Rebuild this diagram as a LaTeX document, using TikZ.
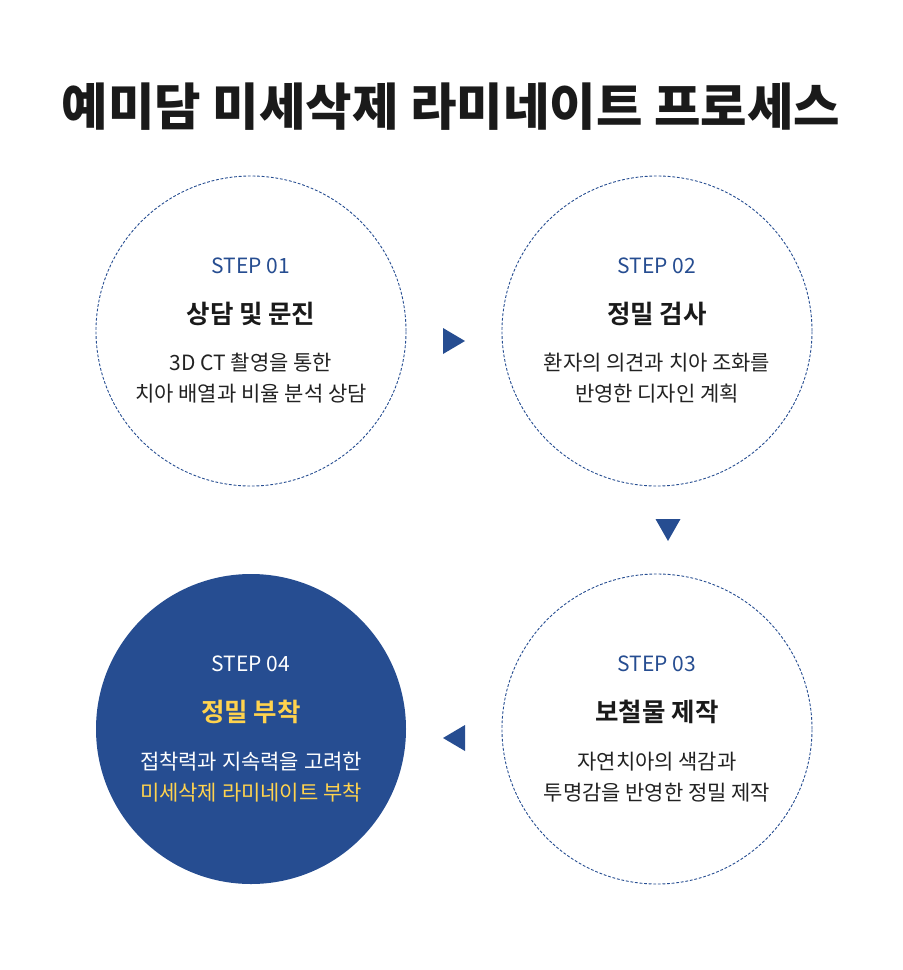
\documentclass[tikz,border=0pt]{standalone}
\usepackage{fontspec}
\usetikzlibrary{calc}
\setmainfont{Noto Sans CJK KR}
\newfontfamily\krblack{Noto Sans CJK KR Black}
\newfontfamily\krbold{Noto Sans CJK KR Bold}
\definecolor{mainblue}{HTML}{264D91}
\definecolor{accent}{HTML}{FFD34E}
\definecolor{titleblack}{HTML}{1A1A1A}
\definecolor{bodytext}{HTML}{222222}
\begin{document}
\begin{tikzpicture}[x=1pt,y=-1pt,
  stepcircle/.style={circle,draw=mainblue,line width=0.9pt,dash pattern=on 2.8pt off 1.8pt,minimum size=310pt,inner sep=0pt},
  filledcircle/.style={circle,fill=mainblue,minimum size=310pt,inner sep=0pt},
  steplabel/.style={font=\fontsize{21}{24}\selectfont,text=mainblue,anchor=center},
  steptitle/.style={font=\krbold\fontsize{25.5}{28}\selectfont,text=titleblack,anchor=center},
  stepbody/.style={font=\fontsize{21}{31}\selectfont,text=bodytext,align=center,anchor=center},
  arrowtri/.style={fill=mainblue,draw=none}
]
\useasboundingbox (0,0) rectangle (903,970);
\fill[white] (0,0) rectangle (903,970);

\node[font=\krblack\fontsize{50.5}{56}\selectfont,text=titleblack] (title) at (451,107) {예미담 미세삭제 라미네이트 프로세스};

% circles
\node[stepcircle] (c1) at (251,331) {};
\node[stepcircle] (c2) at (657,331) {};
\node[stepcircle] (c3) at (657,729) {};
\node[filledcircle] (c4) at (251,729) {};

% step 1
\node[steplabel] (s1) at (251,266) {STEP 01};
\node[steptitle] (t1) at (251,314) {상담 및 문진};
\node[stepbody] (b1) at (251,378) {3D CT 촬영을 통한\\치아 배열과 비율 분석 상담};

% step 2
\node[steplabel] (s2) at (657,266) {STEP 02};
\node[steptitle] (t2) at (657,314) {정밀 검사};
\node[stepbody] (b2) at (657,378) {환자의 의견과 치아 조화를\\반영한 디자인 계획};

% step 3
\node[steplabel] (s3) at (657,664) {STEP 03};
\node[steptitle] (t3) at (657,712) {보철물 제작};
\node[stepbody] (b3) at (657,777) {자연치아의 색감과\\투명감을 반영한 정밀 제작};

% step 4
\node[steplabel,text=white] (s4) at (251,664) {STEP 04};
\node[steptitle,text=accent] (t4) at (251,712) {정밀 부착};
\node[stepbody,text=white] (b4) at (251,777) {접착력과 지속력을 고려한\\\textcolor{accent}{미세삭제 라미네이트 부착}};

% arrows
\coordinate (a1) at (454,341);
\fill[arrowtri] ($(a1)+(-11,-13)$) -- ($(a1)+(11,0)$) -- ($(a1)+(-11,13)$) -- cycle;
\coordinate (a2) at (668,530);
\fill[arrowtri] ($(a2)+(-12.5,-11)$) -- ($(a2)+(12.5,-11)$) -- ($(a2)+(0,11)$) -- cycle;
\coordinate (a3) at (454,738);
\fill[arrowtri] ($(a3)+(11,-13)$) -- ($(a3)+(-11,0)$) -- ($(a3)+(11,13)$) -- cycle;
\end{tikzpicture}
\end{document}
